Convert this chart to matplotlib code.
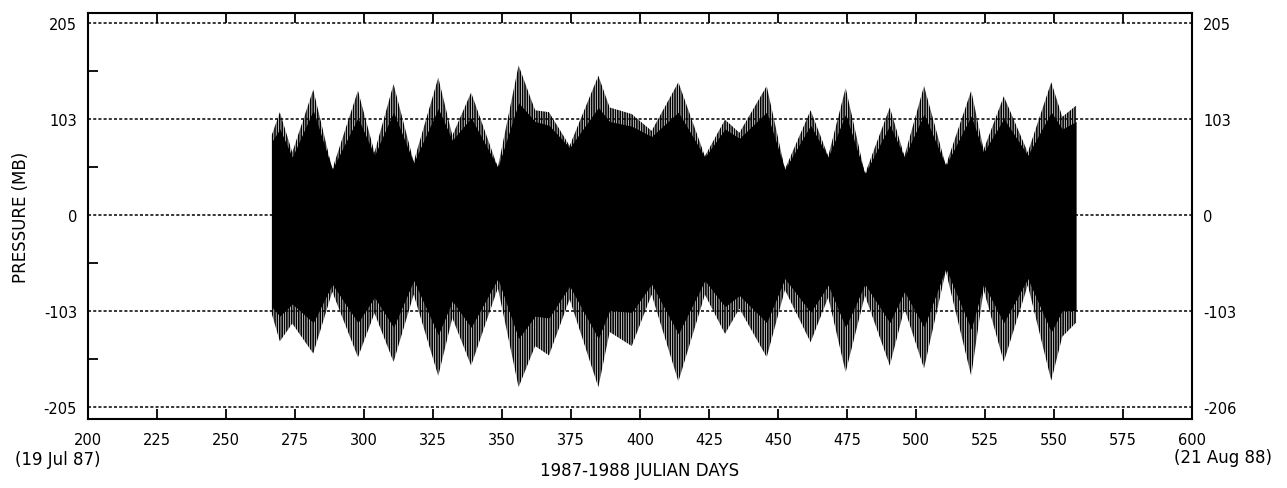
import matplotlib.pyplot as plt
from matplotlib.ticker import FixedLocator

# Spring/neap envelope of the pressure record
days = [266.5, 269.5, 274, 281.6, 288.5, 297.8, 303.8, 310.7, 318, 326.9,
        332, 338.8, 348.5, 356, 362, 367, 374.5, 384.9, 389, 397,
        404.2, 413.9, 423.5, 430.8, 436, 445.9, 452.5, 461.8, 468.2, 474.5,
        481.5, 490.5, 495.8, 502.9, 510.8, 520, 524.5, 531.8, 540.5, 549,
        553, 558]
upper = [85, 110, 67, 134, 49, 133, 67, 140, 57, 147,
         85, 131, 51, 160, 112, 110, 74, 149, 115, 108,
         90, 142, 63, 102, 88, 138, 49, 112, 63, 136,
         44, 115, 63, 138, 53, 133, 70, 127, 67, 142,
         105, 117]
lower = [-105, -135, -116, -148, -82, -152, -105, -157, -85, -172,
         -110, -161, -78, -184, -140, -150, -90, -184, -125, -140,
         -85, -178, -85, -127, -100, -152, -80, -136, -88, -168,
         -86, -161, -100, -164, -60, -172, -80, -157, -75, -177,
         -130, -115]
# solid (dense) part of the trace
core_upper = [78, 92, 62, 112, 49, 104, 64, 110, 56, 114,
              80, 104, 51, 120, 100, 96, 72, 115, 100, 95,
              84, 110, 62, 92, 82, 110, 49, 96, 62, 108,
              44, 96, 62, 108, 53, 106, 67, 103, 64, 110,
              92, 100]
core_lower = [-98, -108, -95, -115, -74, -115, -88, -120, -70, -128,
              -92, -120, -68, -132, -108, -110, -76, -132, -102, -104,
              -74, -127, -70, -98, -86, -115, -68, -104, -75, -120,
              -74, -115, -82, -120, -57, -122, -74, -115, -68, -125,
              -102, -102]

x_ticks = [200, 225, 250, 275, 300, 325, 350, 375, 400, 425, 450, 475,
           500, 525, 550, 575, 600]
y_levels = [205, 103, 0, -103, -205]
left_labels = ['205', '103', '0', '-103', '-205']
right_labels = ['205', '103', '0', '-103', '-206']
y_minor = [154, 51.5, -51.5, -154]

plt.rcParams['hatch.linewidth'] = 1.2

fig = plt.figure(figsize=(12.87, 4.89), dpi=100)
ax = fig.add_axes([0.0684, 0.1411, 0.8578, 0.8303])

ax.fill_between(days, lower, upper, facecolor='white', edgecolor='black',
                hatch='|||||||', linewidth=0, zorder=2)
ax.fill_between(days, core_lower, core_upper, color='black', linewidth=0, zorder=2)

for lev in y_levels:
    ax.axhline(lev, color='black', linestyle=(0, (2.0, 1.4)), linewidth=1.1, zorder=3)

ax.set_xlim(200, 600)
ax.set_ylim(-218, 216)

for s in ax.spines.values():
    s.set_linewidth(1.5)

ax.set_xticks(x_ticks)
ax.set_xticklabels([str(t) for t in x_ticks])
ax.tick_params(axis='x', direction='in', length=7, width=1.3, top=True,
               labelsize=10.5, pad=9)

ax.set_yticks(y_levels)
ax.set_yticklabels(left_labels)
ax.yaxis.set_minor_locator(FixedLocator(y_minor))
ax.tick_params(axis='y', which='major', length=0, labelsize=10.5, pad=8)
ax.tick_params(axis='y', which='minor', direction='in', length=7, width=1.3,
               right=True)

ax2 = ax.twinx()
ax2.set_ylim(ax.get_ylim())
ax2.set_yticks(y_levels)
ax2.set_yticklabels(right_labels)
ax2.tick_params(axis='y', length=0, labelsize=10.5, pad=8)
for s in ax2.spines.values():
    s.set_visible(False)

ax.set_ylabel('PRESSURE (MB)', fontsize=12, labelpad=10)
fig.text(0.497, 0.018, '1987-1988 JULIAN DAYS', ha='center', va='bottom', fontsize=12)
fig.text(0.012, 0.040, '(19 Jul 87)', ha='left', va='bottom', fontsize=12)
fig.text(0.988, 0.046, '(21 Aug 88)', ha='right', va='bottom', fontsize=12)

plt.savefig('out.png', dpi=100)
